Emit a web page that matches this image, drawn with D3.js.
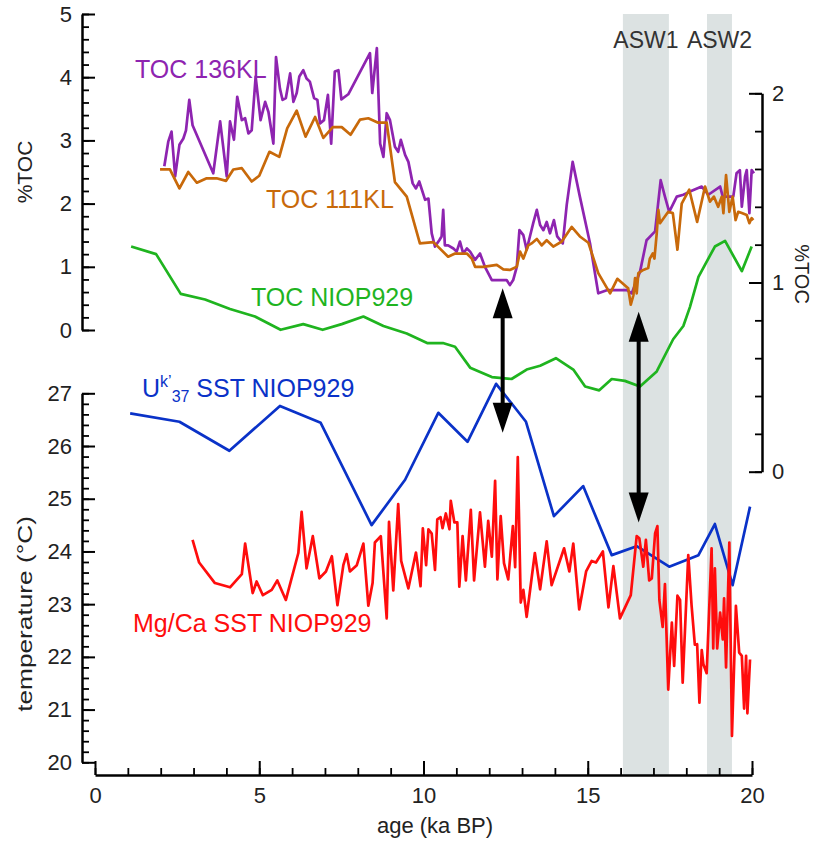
<!DOCTYPE html>
<html>
<head>
<meta charset="utf-8">
<script src="https://cdn.jsdelivr.net/npm/d3@7"></script>
<style>
  body { margin: 0; background: #fff; }
  svg { font-family: "Liberation Sans", Arial, sans-serif; }
  .tick text { fill: #222; }
</style>
</head>
<body>
<div id="chart"></div>
<script>
// [age ka BP, %TOC]  core 136KL (left axis)
const toc136KL = [[2.11,2.59],[2.23,2.98],[2.33,3.14],[2.44,2.43],[2.57,2.93],[2.69,3.03],[2.77,3.16],[2.87,3.64],[2.97,3.24],
  [3.60,2.48],[3.81,3.30],[4.01,2.43],[4.11,3.30],[4.23,3.01],[4.33,3.69],[4.47,3.32],[4.57,3.35],[4.67,3.11],[4.77,3.16],
  [4.89,4.01],[5.04,3.32],[5.18,3.61],[5.28,3.45],[5.43,2.95],[5.51,4.32],[5.63,3.82],[5.71,3.64],[5.81,3.67],[5.94,4.06],
  [6.04,3.61],[6.14,3.75],[6.22,4.01],[6.34,4.11],[6.44,3.98],[6.54,3.93],[6.67,3.67],[6.77,3.64],[6.85,3.27],[6.97,3.32],
  [7.09,3.72],[7.19,2.95],[7.30,4.09],[7.41,4.11],[7.50,3.65],[7.71,3.73],[8.37,4.38],[8.44,3.75],[8.58,4.46],[8.68,2.95],
  [8.78,2.74],[8.88,3.43],[8.98,3.32],[9.13,2.90],[9.23,2.82],[9.31,3.01],[9.44,2.77],[9.54,2.66],[9.67,2.32],[9.77,2.24],
  [9.87,2.35],[10.05,2.06],[10.15,2.08],[10.25,1.53],[10.35,1.32],[10.48,1.42],[10.55,1.48],[10.60,1.90],[10.65,1.34],
  [10.75,1.34],[10.91,1.29],[11.01,1.24],[11.11,1.40],[11.21,1.21],[11.32,1.29],[11.42,1.24],[11.57,1.11],[11.72,1.21],
  [11.87,1.00],[12.08,0.79],[12.23,0.79],[12.53,0.79],[12.63,0.71],[12.73,0.79],[12.84,1.00],[12.92,1.58],[13.04,1.50],
  [13.14,1.27],[13.24,1.48],[13.34,1.69],[13.45,1.90],[13.55,1.66],[13.65,1.58],[13.75,1.71],[13.85,1.53],[13.97,1.74],
  [14.07,1.48],[14.24,1.37],[14.36,1.98],[14.54,2.66],[14.76,2.11],[15.07,1.37],[15.32,0.58],[15.58,0.63],[16.19,0.63],
  [16.34,0.58],[16.59,0.92],[16.79,1.42],[17.05,1.56],[17.22,2.37],[17.35,2.11],[17.48,1.87],[17.71,2.11],[17.91,2.14],
  [18.11,2.19],[18.47,2.27],[18.67,2.14],[19.03,2.27],[19.11,2.11],[19.43,2.11],[19.53,2.48],[19.63,2.53],[19.69,1.95],
  [19.79,2.43],[19.84,2.53],[19.92,1.85],[19.99,2.53],[20.06,2.48]];

// [age, %TOC]  core 111KL (left axis)
const toc111KL = [[1.98,2.54],[2.28,2.54],[2.57,2.24],[2.84,2.50],[3.10,2.33],[3.40,2.40],[3.70,2.40],[3.99,2.36],[4.21,2.54],
  [4.47,2.56],[4.77,2.35],[5.00,2.44],[5.31,2.82],[5.61,2.74],[5.85,3.19],[6.14,3.47],[6.41,3.06],[6.70,3.37],[6.95,3.04],
  [7.24,3.21],[7.51,3.21],[7.78,3.09],[8.07,3.33],[8.32,3.35],[8.62,3.28],[8.88,3.28],[9.13,2.34],[9.49,2.11],[9.89,1.37],
  [10.30,1.39],[10.75,1.16],[10.96,1.21],[11.32,1.21],[11.47,1.13],[11.57,1.00],[11.82,1.00],[12.23,1.03],[12.43,0.96],
  [12.63,0.95],[12.84,1.00],[12.94,1.24],[13.04,1.13],[13.19,1.34],[13.29,1.37],[13.45,1.44],[13.60,1.34],[13.75,1.42],
  [13.95,1.32],[14.21,1.40],[14.51,1.63],[14.76,1.48],[15.02,1.38],[15.32,0.90],[15.68,0.58],[15.90,0.81],[16.23,0.66],
  [16.31,0.40],[16.39,0.55],[16.44,0.82],[16.49,0.58],[16.54,0.90],[16.69,0.95],[16.84,0.98],[16.89,1.13],[16.98,1.21],
  [17.03,1.13],[17.10,1.53],[17.15,1.90],[17.20,1.69],[17.45,1.87],[17.59,1.85],[17.73,1.27],[17.86,2.00],[18.09,2.22],
  [18.33,1.71],[18.57,2.27],[18.72,2.03],[18.84,2.11],[18.97,1.95],[19.08,2.11],[19.13,1.85],[19.21,2.45],[19.31,1.87],
  [19.41,2.11],[19.50,1.74],[19.58,1.87],[19.69,1.85],[19.84,1.82],[19.92,1.69],[19.99,1.77],[20.04,1.74]];

// [age, %TOC]  NIOP929 (right axis)
const tocNIOP929 = [[1.10,1.19],[1.86,1.15],[2.61,0.94],[3.35,0.91],[4.11,0.86],[4.87,0.82],[5.65,0.75],[6.34,0.78],[6.93,0.75],
  [7.51,0.78],[8.17,0.82],[8.78,0.77],[9.49,0.73],[10.11,0.68],[10.59,0.68],[10.96,0.66],[11.42,0.55],[12.08,0.50],[12.68,0.49],
  [13.14,0.54],[13.55,0.56],[14.03,0.60],[14.56,0.54],[14.92,0.45],[15.35,0.43],[15.73,0.49],[16.13,0.48],[16.59,0.45],
  [17.10,0.53],[17.60,0.70],[17.91,0.77],[18.11,0.87],[18.37,1.03],[18.87,1.19],[19.18,1.22],[19.69,1.06],[19.99,1.19]];

// [age, °C]  Uk'37 SST NIOP929
const uk37SST = [[1.07,26.62],[2.57,26.46],[4.09,25.91],[5.63,26.76],[6.87,26.44],[8.42,24.50],[9.44,25.36],[10.45,26.63],
  [11.34,26.08],[12.21,27.18],[13.12,26.46],[13.97,24.67],[14.86,25.24],[15.73,23.93],[16.49,24.10],[17.48,23.71],
  [18.37,23.93],[18.87,24.52],[19.41,23.36],[19.94,24.85]];

// [age, °C]  Mg/Ca SST NIOP929
const mgcaSST = [[2.97,24.22],[3.17,23.79],[3.65,23.40],[4.11,23.32],[4.47,23.57],[4.57,24.15],[4.80,23.21],[4.92,23.43],
  [5.11,23.17],[5.38,23.27],[5.55,23.45],[5.81,23.08],[6.19,23.97],[6.29,24.75],[6.44,23.68],[6.63,24.29],[6.83,23.49],
  [7.03,23.62],[7.21,23.91],[7.38,22.98],[7.56,23.74],[7.66,23.95],[7.76,23.62],[7.97,23.74],[8.17,24.15],[8.32,22.97],
  [8.45,23.40],[8.52,24.17],[8.70,24.29],[8.88,22.73],[8.95,24.56],[9.08,23.26],[9.23,24.90],[9.32,23.82],[9.54,23.30],
  [9.77,23.98],[9.91,23.34],[9.98,24.44],[10.08,23.74],[10.15,24.42],[10.25,24.34],[10.35,23.65],[10.42,24.61],[10.52,24.65],
  [10.58,24.44],[10.68,24.72],[10.79,24.42],[10.83,24.96],[10.94,24.55],[11.03,24.55],[11.09,23.33],[11.19,24.29],
  [11.29,23.45],[11.44,24.79],[11.54,23.45],[11.72,24.74],[11.87,23.71],[11.97,24.58],[12.08,23.90],[12.18,25.34],
  [12.25,23.47],[12.35,24.67],[12.45,23.78],[12.58,23.47],[12.72,24.48],[12.79,23.70],[12.87,25.79],[12.96,23.03],
  [13.04,23.27],[13.14,22.76],[13.26,23.34],[13.39,23.97],[13.55,23.28],[13.75,24.19],[13.90,23.36],[14.28,24.06],
  [14.44,23.62],[14.56,24.15],[14.74,22.90],[14.95,23.62],[15.12,23.82],[15.25,23.79],[15.46,24.00],[15.63,22.94],
  [15.78,23.72],[15.98,22.73],[16.31,23.17],[16.49,24.29],[16.57,24.25],[16.69,23.71],[16.77,24.22],[16.87,23.45],
  [16.95,23.49],[17.05,24.34],[17.12,24.48],[17.18,23.08],[17.28,22.57],[17.35,23.38],[17.45,21.38],[17.56,22.65],
  [17.63,21.83],[17.73,23.16],[17.81,23.08],[17.89,21.51],[18.06,23.93],[18.16,22.98],[18.26,22.23],[18.33,22.24],
  [18.40,21.13],[18.47,22.13],[18.52,21.86],[18.62,21.69],[18.77,24.06],[18.82,22.16],[18.87,23.68],[18.94,22.16],
  [19.03,22.84],[19.11,22.33],[19.15,23.11],[19.21,21.80],[19.31,24.17],[19.39,20.50],[19.51,22.97],[19.61,22.08],
  [19.69,22.02],[19.76,21.02],[19.82,22.02],[19.86,20.93],[19.94,21.95]];

// warming events (age range, ka)
const aswBands = [
  { name: "ASW1", from: 16.07, to: 17.47 },
  { name: "ASW2", from: 18.63, to: 19.39 }
]

// arrows: age, top tip (%TOC left), bottom tip (°C)
const arrows = [
  { age: 12.41, toc: 0.66, temp: 26.25 },
  { age: 16.55, toc: 0.29, temp: 24.55 }
]

const ageTicks = [0, 5, 10, 15, 20]
const tocLeftTicks = [0, 1, 2, 3, 4, 5]
const tocRightTicks = [0, 1, 2]
const tempTicks = [20, 21, 22, 23, 24, 25, 26, 27]

const W = 815, H = 841

const svg = d3.select("#chart").append("svg")
  .attr("width", W)
  .attr("height", H)

const x = d3.scaleLinear().domain([0, 20]).range([95, 752])
const yTocL = d3.scaleLinear().domain([0, 5]).range([330, 14])
const yTocR = d3.scaleLinear().domain([0, 2]).range([471.7, 93.3])
const yTemp = d3.scaleLinear().domain([20, 27]).range([762.3, 393.3])

const AXIS_Y = 775
const LEFT_X = 82
const RIGHT_X = 762

// grey bands
svg.append("g").selectAll("rect")
  .data(aswBands)
  .join("rect")
    .attr("x", d => x(d.from))
    .attr("width", d => x(d.to) - x(d.from))
    .attr("y", yTocL(5))
    .attr("height", AXIS_Y - yTocL(5))
    .attr("fill", "#dce2e2")

svg.append("g").selectAll("text")
  .data(aswBands)
  .join("text")
    .attr("x", d => x((d.from + d.to) / 2))
    .attr("y", 48)
    .attr("text-anchor", "middle")
    .attr("font-size", 23)
    .attr("fill", "#333")
    .text(d => d.name)

// axes
function styleAxis(g) {
  g.select(".domain").attr("stroke", "#000").attr("stroke-width", 2.5)
  g.selectAll(".tick line").attr("stroke", "#000").attr("stroke-width", 2)
  g.selectAll(".tick text").attr("font-size", 22)
}

function minor(g) {
  g.select(".domain").remove()
  g.selectAll(".tick line").attr("stroke", "#000").attr("stroke-width", 1.8)
}

// left TOC axis
svg.append("g")
  .attr("transform", `translate(${LEFT_X},0)`)
  .call(d3.axisLeft(yTocL).tickValues(d3.range(0, 5.001, 0.2)).tickSize(-7).tickFormat(""))
  .call(minor)
svg.append("g")
  .attr("transform", `translate(${LEFT_X},0)`)
  .call(d3.axisLeft(yTocL).tickValues(tocLeftTicks).tickSizeInner(-13).tickSizeOuter(0).tickPadding(10).tickFormat(d3.format("d")))
  .call(styleAxis)

// left temperature axis
svg.append("g")
  .attr("transform", `translate(${LEFT_X},0)`)
  .call(d3.axisLeft(yTemp).tickValues(d3.range(20, 27.001, 0.2)).tickSize(-7).tickFormat(""))
  .call(minor)
svg.append("g")
  .attr("transform", `translate(${LEFT_X},0)`)
  .call(d3.axisLeft(yTemp).tickValues(tempTicks).tickSizeInner(-13).tickSizeOuter(0).tickPadding(10).tickFormat(d3.format("d")))
  .call(styleAxis)

// right TOC axis
svg.append("g")
  .attr("transform", `translate(${RIGHT_X},0)`)
  .call(d3.axisRight(yTocR).tickValues(d3.range(0, 2.001, 0.2)).tickSize(-7).tickFormat(""))
  .call(minor)
svg.append("g")
  .attr("transform", `translate(${RIGHT_X},0)`)
  .call(d3.axisRight(yTocR).tickValues(tocRightTicks).tickSizeInner(-13).tickSizeOuter(0).tickPadding(10).tickFormat(d3.format("d")))
  .call(styleAxis)

// bottom age axis
svg.append("g")
  .attr("transform", `translate(0,${AXIS_Y})`)
  .call(d3.axisBottom(x).tickValues(d3.range(0, 21, 1)).tickSize(-7).tickFormat(""))
  .call(minor)
svg.append("g")
  .attr("transform", `translate(0,${AXIS_Y})`)
  .call(d3.axisBottom(x).tickValues(ageTicks).tickSizeInner(-14).tickSizeOuter(0).tickPadding(12))
  .call(styleAxis)

// axis titles
svg.append("text")
  .attr("transform", `translate(32,172) rotate(-90)`)
  .attr("text-anchor", "middle")
  .attr("font-size", 21)
  .attr("fill", "#222")
  .text("%TOC")

svg.append("text")
  .attr("transform", `translate(32,614) rotate(-90) scale(1.25,1)`)
  .attr("text-anchor", "middle")
  .attr("font-size", 21)
  .attr("fill", "#222")
  .text("temperature (°C)")

svg.append("text")
  .attr("transform", `translate(795,274) rotate(90)`)
  .attr("text-anchor", "middle")
  .attr("font-size", 20)
  .attr("fill", "#222")
  .text("%TOC")

svg.append("text")
  .attr("x", 435)
  .attr("y", 833)
  .attr("text-anchor", "middle")
  .attr("font-size", 22)
  .attr("fill", "#222")
  .text("age (ka BP)")

// series
const series = [
  { data: tocNIOP929, y: yTocR, color: "#1fb41f" },
  { data: uk37SST, y: yTemp, color: "#0a32c8" },
  { data: mgcaSST, y: yTemp, color: "#ff0d0d" },
  { data: toc136KL, y: yTocL, color: "#8e24b0" },
  { data: toc111KL, y: yTocL, color: "#c8690a" }
]

series.forEach(s => {
  const line = d3.line()
    .x(d => x(d[0]))
    .y(d => s.y(d[1]))
  svg.append("path")
    .datum(s.data)
    .attr("d", line)
    .attr("fill", "none")
    .attr("stroke", s.color)
    .attr("stroke-width", 2.7)
    .attr("stroke-linejoin", "round")
})

// series labels
const lab = (txt, xx, yy, color) => svg.append("text")
  .attr("x", xx).attr("y", yy)
  .attr("font-size", 25)
  .attr("fill", color)
  .text(txt)

lab("TOC 136KL", 135, 78, "#8e24b0")
lab("TOC 111KL", 266, 208, "#c8690a")
lab("TOC NIOP929", 251, 306, "#1fb41f")
lab("Mg/Ca SST NIOP929", 133, 632, "#ff0d0d")

const uk = svg.append("text")
  .attr("x", 142).attr("y", 397)
  .attr("font-size", 25)
  .attr("fill", "#0a32c8")
uk.append("tspan").text("U")
uk.append("tspan").attr("dy", -10).attr("font-size", 16).text("k’")
uk.append("tspan").attr("dy", 15).attr("font-size", 16).text("37")
uk.append("tspan").attr("dy", -5).text(" SST NIOP929")

// arrows
const HEAD_L = 30, HEAD_W = 10
const ag = svg.append("g")
arrows.forEach(a => {
  const ax = x(a.age), y1 = yTocL(a.toc), y2 = yTemp(a.temp)
  ag.append("line")
    .attr("x1", ax).attr("x2", ax)
    .attr("y1", y1 + HEAD_L - 2).attr("y2", y2 - HEAD_L + 2)
    .attr("stroke", "#000").attr("stroke-width", 4)
  ag.append("path")
    .attr("d", `M${ax},${y1} L${ax - HEAD_W},${y1 + HEAD_L} L${ax + HEAD_W},${y1 + HEAD_L} Z`)
    .attr("fill", "#000")
  ag.append("path")
    .attr("d", `M${ax},${y2} L${ax - HEAD_W},${y2 - HEAD_L} L${ax + HEAD_W},${y2 - HEAD_L} Z`)
    .attr("fill", "#000")
})
</script>
</body>
</html>
